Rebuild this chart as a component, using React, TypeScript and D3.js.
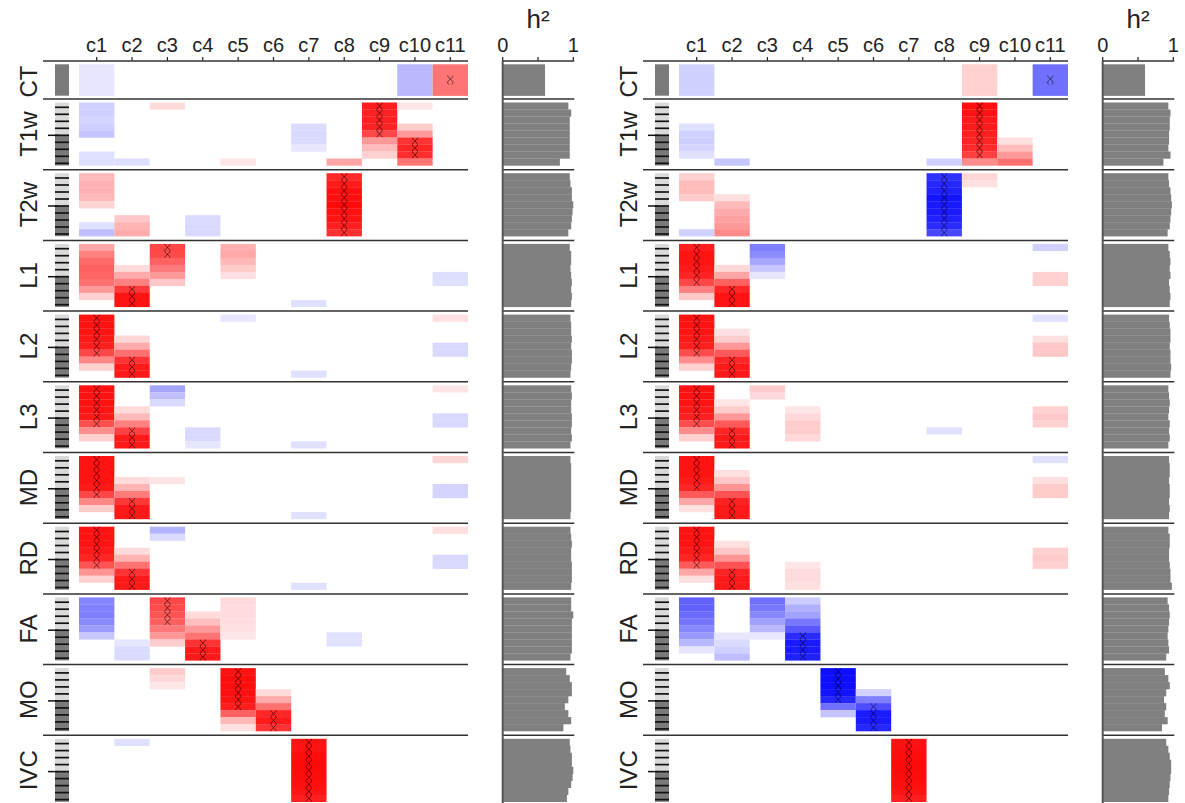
import React from "react";
import * as d3 from "d3";

const rowNames = ["CT", "T1w", "T2w", "L1", "L2", "L3", "MD", "RD", "FA", "MO", "IVC"];
const colNames = ["c1", "c2", "c3", "c4", "c5", "c6", "c7", "c8", "c9", "c10", "c11"];
const h2Ticks = [0, 0.5, 1];
const h2TickLabels = ["0", "", "1"];

// [row, column (1-based), first sub-row, loadings]  negative = blue
const leftCells = [
  [0, 1, 0, [-0.1]], [0, 10, 0, [-0.28]], [0, 11, 0, [0.54]],
  [1, 1, 0, [-0.18, -0.19, -0.17, -0.19, -0.23]], [1, 1, 7, [-0.12, -0.13]],
  [1, 2, 8, [-0.13]], [1, 3, 0, [0.14]], [1, 5, 8, [0.1]],
  [1, 7, 3, [-0.14, -0.15, -0.14, -0.1]], [1, 8, 8, [0.35]],
  [1, 9, 0, [0.88, 0.87, 0.87, 0.86, 0.72, 0.4, 0.27, 0.18]],
  [1, 10, 0, [0.1]], [1, 10, 3, [0.2, 0.4, 0.8, 0.85, 0.82, 0.55]],
  [2, 1, 0, [0.27, 0.31, 0.31, 0.28, 0.17]], [2, 1, 7, [-0.12, -0.25]],
  [2, 2, 6, [0.22, 0.3, 0.33]], [2, 4, 6, [-0.14, -0.15, -0.15]],
  [2, 8, 0, [0.84, 0.9, 0.94, 0.94, 0.96, 0.94, 0.92, 0.88, 0.81]],
  [3, 1, 0, [0.35, 0.5, 0.58, 0.62, 0.6, 0.56, 0.4, 0.19]],
  [3, 2, 3, [0.14, 0.33, 0.5, 0.78, 0.92, 0.92]],
  [3, 3, 0, [0.72, 0.71, 0.62, 0.52, 0.4, 0.22]],
  [3, 5, 0, [0.31, 0.34, 0.28, 0.2, 0.12]],
  [3, 7, 8, [-0.12]], [3, 11, 4, [-0.13, -0.12]],
  [4, 1, 0, [0.93, 0.93, 0.92, 0.9, 0.88, 0.72, 0.47, 0.18]],
  [4, 2, 3, [0.16, 0.33, 0.56, 0.8, 0.9, 0.9]],
  [4, 5, 0, [-0.1]], [4, 7, 8, [-0.12]], [4, 11, 0, [0.12]], [4, 11, 4, [-0.15, -0.15]],
  [5, 1, 0, [0.93, 0.93, 0.93, 0.92, 0.9, 0.69, 0.44, 0.18]],
  [5, 2, 3, [0.14, 0.27, 0.5, 0.75, 0.9, 0.9]],
  [5, 3, 0, [-0.35, -0.25, -0.14]], [5, 4, 6, [-0.15, -0.15, -0.1]],
  [5, 7, 8, [-0.12]], [5, 11, 0, [0.1]], [5, 11, 4, [-0.15, -0.15]],
  [6, 1, 0, [0.93, 0.93, 0.93, 0.92, 0.9, 0.72, 0.47, 0.2]],
  [6, 2, 3, [0.14, 0.3, 0.52, 0.78, 0.9, 0.9]],
  [6, 3, 3, [0.1]], [6, 7, 8, [-0.12]], [6, 11, 0, [0.16]], [6, 11, 4, [-0.17, -0.17]],
  [7, 1, 0, [0.93, 0.93, 0.92, 0.9, 0.86, 0.68, 0.42, 0.18]],
  [7, 2, 3, [0.14, 0.3, 0.55, 0.8, 0.9, 0.9]],
  [7, 3, 0, [-0.3, -0.14]], [7, 7, 8, [-0.12]], [7, 11, 0, [0.12]], [7, 11, 4, [-0.15, -0.15]],
  [8, 1, 0, [-0.48, -0.5, -0.5, -0.46, -0.39, -0.22]],
  [8, 2, 6, [-0.1, -0.14, -0.14]],
  [8, 3, 0, [0.73, 0.71, 0.67, 0.62, 0.53, 0.4, 0.2]],
  [8, 4, 2, [0.14, 0.25, 0.4, 0.55, 0.8, 0.9, 0.9]],
  [8, 5, 0, [0.15, 0.14, 0.14, 0.13, 0.12, 0.1]],
  [8, 8, 5, [-0.12, -0.12]],
  [9, 3, 0, [0.2, 0.15, 0.1]],
  [9, 5, 0, [0.93, 0.95, 0.95, 0.94, 0.92, 0.88, 0.62, 0.28, 0.12]],
  [9, 6, 3, [0.14, 0.33, 0.56, 0.85, 0.9, 0.8]],
  [10, 2, 0, [-0.12]],
  [10, 7, 0, [0.92, 0.93, 0.95, 0.96, 0.96, 0.95, 0.94, 0.92, 0.88]],
];

// [row, column, from sub-row, to sub-row]
const leftMarks = [
  [0, 11, 0, 0], [1, 9, 0, 4], [1, 10, 5, 7], [2, 8, 0, 8],
  [3, 3, 0, 1], [3, 2, 6, 8], [4, 1, 0, 5], [4, 2, 6, 8],
  [5, 1, 0, 5], [5, 2, 6, 8], [6, 1, 0, 5], [6, 2, 6, 8],
  [7, 1, 0, 5], [7, 2, 6, 8], [8, 3, 0, 3], [8, 4, 6, 8],
  [9, 5, 0, 5], [9, 6, 6, 8], [10, 7, 0, 8],
];

const leftH2 = [
  [0.6],
  [0.93, 0.97, 0.95, 0.95, 0.95, 0.95, 0.95, 0.95, 0.81],
  [0.95, 0.96, 0.98, 0.98, 1.0, 0.99, 0.98, 0.97, 0.93],
  [0.95, 0.97, 0.97, 0.96, 0.97, 0.98, 0.97, 0.98, 0.97],
  [0.96, 0.97, 0.97, 0.98, 0.97, 0.98, 0.98, 0.97, 0.96],
  [0.97, 0.98, 0.97, 0.97, 0.98, 0.98, 0.97, 0.98, 0.96],
  [0.96, 0.97, 0.97, 0.97, 0.97, 0.97, 0.97, 0.97, 0.96],
  [0.96, 0.97, 0.98, 0.97, 0.97, 0.98, 0.98, 0.98, 0.97],
  [0.97, 0.97, 1.0, 0.98, 0.98, 0.98, 0.98, 0.98, 0.96],
  [0.9, 0.95, 0.98, 0.98, 0.93, 0.88, 0.93, 0.97, 0.86],
  [0.95, 0.96, 0.98, 0.98, 1.0, 0.99, 0.97, 0.93, 0.91],
];

const rightCells = [
  [0, 1, 0, [-0.18]], [0, 9, 0, [0.18]], [0, 11, 0, [-0.56]],
  [1, 1, 3, [-0.12, -0.18, -0.19, -0.17, -0.12]], [1, 2, 8, [-0.22]], [1, 8, 8, [-0.18]],
  [1, 9, 0, [0.94, 0.93, 0.9, 0.9, 0.88, 0.86, 0.83, 0.75, 0.45]],
  [1, 10, 5, [0.12, 0.25, 0.4, 0.56]],
  [2, 1, 0, [0.18, 0.27, 0.27, 0.2]], [2, 1, 8, [-0.18]],
  [2, 2, 3, [0.13, 0.27, 0.33, 0.37, 0.4, 0.46]],
  [2, 8, 0, [-0.81, -0.85, -0.87, -0.92, -0.9, -0.9, -0.87, -0.83, -0.72]],
  [2, 9, 0, [0.16, 0.12]],
  [3, 1, 0, [0.88, 0.92, 0.92, 0.9, 0.86, 0.72, 0.5, 0.22]],
  [3, 2, 3, [0.15, 0.35, 0.62, 0.85, 0.92, 0.92]],
  [3, 3, 0, [-0.5, -0.45, -0.35, -0.22, -0.1]],
  [3, 11, 0, [-0.18]], [3, 11, 4, [0.18, 0.18]],
  [4, 1, 0, [0.93, 0.93, 0.92, 0.9, 0.88, 0.7, 0.45, 0.18]],
  [4, 2, 2, [0.12, 0.2, 0.4, 0.65, 0.85, 0.9, 0.9]],
  [4, 11, 0, [-0.12]], [4, 11, 3, [0.12, 0.22, 0.22]],
  [5, 1, 0, [0.93, 0.93, 0.92, 0.9, 0.88, 0.7, 0.45, 0.18]],
  [5, 2, 2, [0.1, 0.2, 0.4, 0.65, 0.85, 0.9, 0.9]],
  [5, 3, 0, [0.2, 0.15]], [5, 4, 3, [0.1, 0.15, 0.2, 0.2, 0.15]],
  [5, 8, 6, [-0.12]], [5, 11, 3, [0.18, 0.22, 0.18]],
  [6, 1, 0, [0.93, 0.93, 0.92, 0.9, 0.85, 0.65, 0.35, 0.12]],
  [6, 2, 2, [0.12, 0.22, 0.42, 0.68, 0.86, 0.9, 0.9]],
  [6, 11, 0, [-0.12]], [6, 11, 3, [0.12, 0.2, 0.2]],
  [7, 1, 0, [0.93, 0.93, 0.92, 0.9, 0.86, 0.65, 0.35, 0.12]],
  [7, 2, 2, [0.12, 0.22, 0.42, 0.68, 0.86, 0.9, 0.9]],
  [7, 4, 5, [0.1, 0.14, 0.14, 0.12]], [7, 11, 3, [0.18, 0.2, 0.18]],
  [8, 1, 0, [-0.62, -0.62, -0.58, -0.54, -0.47, -0.4, -0.28, -0.1]],
  [8, 2, 5, [-0.1, -0.14, -0.18, -0.25]],
  [8, 3, 0, [-0.56, -0.53, -0.47, -0.37, -0.28, -0.1]],
  [8, 4, 0, [-0.2, -0.31, -0.37, -0.53, -0.65, -0.83, -0.9, -0.9, -0.87]],
  [9, 5, 0, [-0.95, -0.95, -0.95, -0.93, -0.85, -0.56, -0.23]],
  [9, 6, 3, [-0.18, -0.5, -0.7, -0.9, -0.9, -0.85]],
  [10, 7, 0, [0.93, 0.94, 0.95, 0.96, 0.96, 0.95, 0.94, 0.92, 0.88]],
];

const rightMarks = [
  [0, 11, 0, 0], [1, 9, 0, 7], [2, 8, 0, 8],
  [3, 1, 0, 5], [3, 2, 6, 8], [4, 1, 0, 5], [4, 2, 6, 8],
  [5, 1, 0, 5], [5, 2, 6, 8], [6, 1, 0, 4], [6, 2, 6, 8],
  [7, 1, 0, 5], [7, 2, 6, 8], [8, 4, 5, 8],
  [9, 5, 0, 4], [9, 6, 5, 8], [10, 7, 0, 8],
];

const rightH2 = [
  [0.6],
  [0.93, 0.96, 0.95, 0.95, 0.94, 0.94, 0.93, 0.96, 0.86],
  [0.93, 0.94, 0.96, 0.97, 0.98, 0.97, 0.96, 0.95, 0.92],
  [0.93, 0.95, 0.96, 0.95, 0.96, 0.94, 0.95, 0.96, 0.95],
  [0.94, 0.95, 0.96, 0.96, 0.95, 0.96, 0.96, 0.97, 0.96],
  [0.93, 0.94, 0.95, 0.94, 0.93, 0.95, 0.94, 0.95, 0.93],
  [0.94, 0.95, 0.95, 0.94, 0.95, 0.95, 0.94, 0.95, 0.94],
  [0.93, 0.95, 0.95, 0.94, 0.94, 0.95, 0.96, 0.96, 0.98],
  [0.92, 0.94, 0.95, 0.94, 0.93, 0.92, 0.93, 0.94, 0.9],
  [0.88, 0.93, 0.95, 0.9, 0.87, 0.9, 0.88, 0.92, 0.84],
  [0.9, 0.93, 0.95, 0.97, 0.97, 0.96, 0.95, 0.94, 0.93],
];

const font = "'Liberation Sans', Arial, sans-serif";
const axisY = 61;
const rowHeights = rowNames.map((_, i) => (i === 0 ? 38 : 70.7));
const rowTops = rowHeights.map((_, i) => axisY + d3.sum(rowHeights.slice(0, i)));
const subScale = (r) =>
  r === 0
    ? d3.scaleBand([0], [rowTops[0] + 3.3, rowTops[0] + 34.7])
    : d3.scaleBand(d3.range(9), [rowTops[r] + 3.5, rowTops[r] + 66.5]);

const x = d3.scaleBand(colNames, [79, 468]);
const hx = d3.scaleLinear([0, 1], [502.7, 573.3]);
const red = d3.interpolateRgb("#ffffff", "#ff0000");
const blue = d3.interpolateRgb("#ffffff", "#0000ff");
const color = (v) => (v >= 0 ? red(v) : blue(-v));

// two mirrored waves crossing once per sub-row
const chainPath = (cx, y0, y1) => {
  const ys = d3.range(y0, y1 + 0.01, 0.3);
  const line = d3.line();
  const w = (y) => 2.6 * Math.cos((Math.PI * (y - y0)) / 7);
  return line(ys.map((y) => [cx + w(y), y])) + line(ys.map((y) => [cx - w(y), y]));
};

const Panel = ({ off, cells, marks, h2 }) => {
  return (
    <g transform={`translate(${off},0)`} fontFamily={font}>
      {colNames.map((c) => (
        <g key={c}>
          <text x={x(c) + x.bandwidth() / 2} y={52} fontSize={20} textAnchor="middle" fill="#222">{c}</text>
          <line x1={x(c) + x.bandwidth() / 2} x2={x(c) + x.bandwidth() / 2} y1={axisY - 4} y2={axisY} stroke="#222" strokeWidth={1.2} />
        </g>
      ))}
      <text x={hx(0.5)} y={28} fontSize={26} textAnchor="middle" fill="#222">h²</text>
      {h2Ticks.map((t, i) => (
        <g key={t}>
          <text x={hx(t)} y={52} fontSize={20} textAnchor="middle" fill="#222">{h2TickLabels[i]}</text>
          <line x1={hx(t)} x2={hx(t)} y1={axisY - 4} y2={axisY} stroke="#222" strokeWidth={1.2} />
        </g>
      ))}
      {cells.map(([r, c, s, vals], i) => {
        const sy = subScale(r);
        return vals.map((v, k) => (
          <rect key={`${i}-${k}`} x={x(colNames[c - 1])} y={sy(s + k)} width={x.bandwidth()} height={sy.bandwidth() + 0.2} fill={color(v)} />
        ));
      })}
      {marks.map(([r, c, a, b], i) => {
        const sy = subScale(r);
        const cx = x(colNames[c - 1]) + x.bandwidth() / 2;
        let y0 = sy(a);
        let y1 = sy(b) + sy.bandwidth();
        if (r === 0) {
          y0 = sy(0) + sy.bandwidth() / 2 - 4.5;
          y1 = y0 + 9;
        }
        return <path key={i} d={chainPath(cx, y0, y1)} fill="none" stroke="#000" strokeOpacity={0.7} strokeWidth={0.85} />;
      })}
      {rowNames.map((name, r) => {
        const sy = subScale(r);
        const top = sy(0);
        const bottom = sy(sy.domain().length - 1) + sy.bandwidth();
        const cy = r === 0 ? (top + bottom) / 2 + 1.5 : sy(4) + 3.5;
        return (
          <g key={name}>
            <text transform={`translate(37,${cy}) rotate(-90)`} fontSize={24} textAnchor="middle" fill="#222">{name}</text>
            {r === 0 ? (
              <rect x={55} y={top} width={14} height={bottom - top} fill="#7a7a7a" />
            ) : (
              <g>
                <rect x={55} y={top} width={14} height={sy(4) + 4.8 - top} fill="#dadada" />
                <rect x={55} y={sy(4) + 4.8} width={14} height={bottom - sy(4) - 4.8} fill="#7a7a7a" />
                {sy.domain().map((k) => (
                  <line key={k} x1={55} x2={69} y1={sy(k) + 4.8} y2={sy(k) + 4.8} stroke="#111" strokeWidth={1.7} />
                ))}
                <line x1={48} x2={58} y1={sy(4) + 4.8} y2={sy(4) + 4.8} stroke="#111" strokeWidth={1.5} />
              </g>
            )}
            {h2[r].map((v, k) => (
              <rect key={k} x={hx(0)} y={sy(k)} width={hx(v) - hx(0)} height={sy.bandwidth() + 0.2} fill="#808080" />
            ))}
          </g>
        );
      })}
      {rowTops.map((t, i) => (
        <g key={i}>
          <line x1={43} x2={468} y1={t} y2={t} stroke="#333" strokeWidth={1.5} />
          <line x1={hx(0)} x2={hx(1) + 1} y1={t} y2={t} stroke="#333" strokeWidth={1.5} />
        </g>
      ))}
      <line x1={hx(0)} x2={hx(0)} y1={axisY} y2={810} stroke="#555" strokeWidth={2} />
    </g>
  );
};

const App = () => {
  return (
    <svg width={1185} height={803} style={{ position: "absolute", left: 0, top: 0, background: "#fff" }}>
      <Panel off={0} cells={leftCells} marks={leftMarks} h2={leftH2} />
      <Panel off={600} cells={rightCells} marks={rightMarks} h2={rightH2} />
    </svg>
  );
};

export default App;
